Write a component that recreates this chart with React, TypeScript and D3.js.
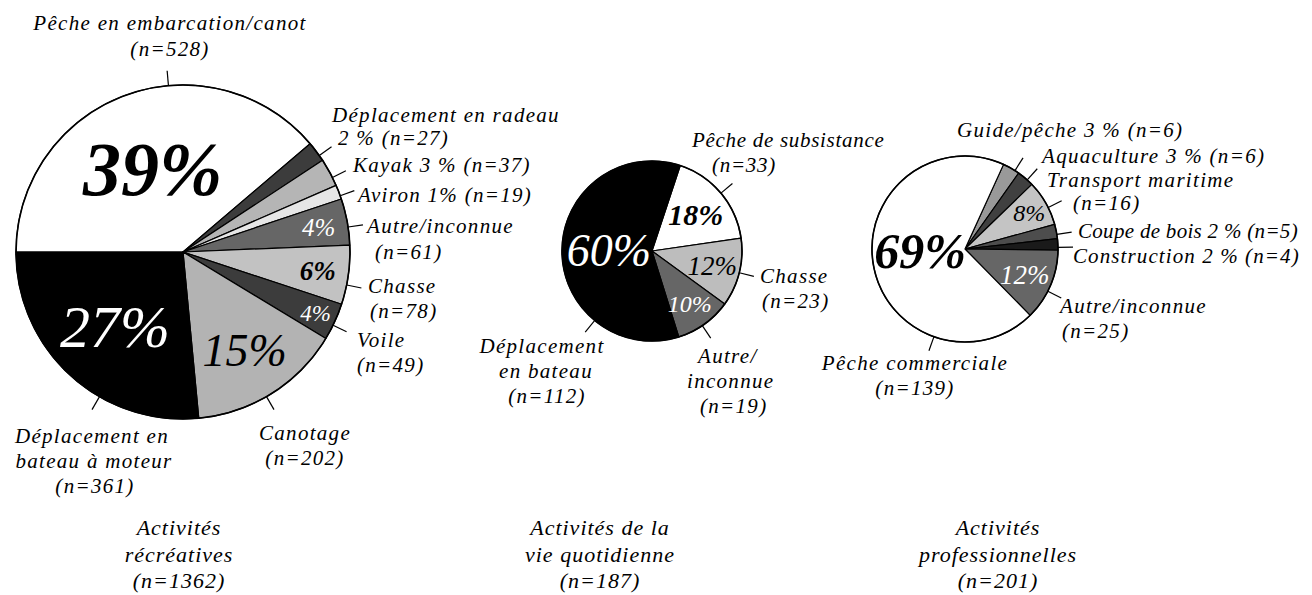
import React from "react";
import * as d3 from "d3";

// ---------- DATA ----------
const recCategories = [
  "Pêche en embarcation/canot",
  "Déplacement en radeau",
  "Kayak",
  "Aviron",
  "Autre/inconnue",
  "Chasse",
  "Voile",
  "Canotage",
  "Déplacement en\nbateau à moteur",
];
const recValues = [528, 27, 37, 19, 61, 78, 49, 202, 361];

const dailyCategories = ["Pêche de subsistance", "Chasse", "Autre/\ninconnue", "Déplacement\nen bateau"];
const dailyValues = [33, 23, 19, 112];

const proCategories = [
  "Guide/pêche",
  "Aquaculture",
  "Transport maritime",
  "Coupe de bois",
  "Construction",
  "Autre/inconnue",
  "Pêche commerciale",
];
const proValues = [6, 6, 16, 5, 4, 25, 139];

const groupTitles = ["Activités\nrécréatives", "Activités de la\nvie quotidienne", "Activités\nprofessionnelles"];

// ---------- STYLES ----------
const recColors = ["#ffffff", "#3c3c3c", "#b5b5b5", "#e6e6e6", "#666666", "#c2c2c2", "#3c3c3c", "#b3b3b3", "#000000"];
const dailyColors = ["#ffffff", "#bdbdbd", "#666666", "#000000"];
const proColors = ["#999999", "#404040", "#c4c4c4", "#4d4d4d", "#1a1a1a", "#666666", "#ffffff"];

type Pct = { r: number; size: number; weight: string; fill: string; angle?: number };
type Lbl = { anchor: "start" | "middle"; x: number; y: number; lines: string[]; dx?: number[]; lh?: number; ls?: number };
type SliceLayout = { pct?: Pct; leader: number; label: Lbl };

const recLayout: SliceLayout[] = [
  { pct: { r: 88, size: 76, weight: "bold", fill: "#000" }, leader: 355, label: { anchor: "middle", x: 170, y: 30, lines: ["{l0}", "(n={n})"], lh: 26 } },
  { leader: 54.7, label: { anchor: "start", x: 332, y: 122, lines: ["{l0}", "{p} % (n={n})"], dx: [0, 6], lh: 23 } },
  { leader: 63.5, label: { anchor: "start", x: 353, y: 172, lines: ["{l0} {p} % (n={n})"] } },
  { leader: 70.3, label: { anchor: "start", x: 358, y: 202, lines: ["{l0} {p}% (n={n})"] } },
  { pct: { r: 138, size: 25, weight: "normal", fill: "#fff" }, leader: 81.4, label: { anchor: "start", x: 367, y: 233, lines: ["{l0}", "(n={n})"], dx: [0, 8], lh: 26 } },
  { pct: { r: 136, size: 27, weight: "bold", fill: "#000" }, leader: 101.4, label: { anchor: "start", x: 368, y: 293, lines: ["{l0}", "(n={n})"], dx: [0, 2] } },
  { pct: { r: 146, size: 23, weight: "normal", fill: "#fff" }, leader: 116, label: { anchor: "start", x: 357, y: 347, lines: ["{l0}", "(n={n})"] } },
  { pct: { r: 116, size: 46, weight: "normal", fill: "#000" }, leader: 150, label: { anchor: "middle", x: 305, y: 440, lines: ["{l0}", "(n={n})"] } },
  { pct: { r: 101, size: 60, weight: "normal", fill: "#fff" }, leader: 210, label: { anchor: "middle", x: 92, y: 443, lines: ["{l0}", "{l1}", "(n={n})"], dx: [0, 2, 3] } },
];

const dailyLayout: SliceLayout[] = [
  { pct: { r: 57, size: 30, weight: "bold", fill: "#000" }, leader: 50, label: { anchor: "start", x: 692, y: 147, lines: ["{l0}", "(n={n})"], dx: [0, 20], ls: 0.7 } },
  { pct: { r: 62, size: 27, weight: "normal", fill: "#000" }, leader: 104, label: { anchor: "start", x: 760, y: 283, lines: ["{l0}", "(n={n})"], dx: [0, 2] } },
  { pct: { r: 65, size: 24, weight: "normal", fill: "#fff" }, leader: 146, label: { anchor: "start", x: 698, y: 363, lines: ["{l0}", "{l1}", "(n={n})"], dx: [0, -11, 2] } },
  { pct: { r: 43, size: 46, weight: "normal", fill: "#fff" }, leader: 219.5, label: { anchor: "middle", x: 542, y: 353, lines: ["{l0}", "{l1}", "(n={n})"], dx: [0, 4, 5] } },
];

const proLayout: SliceLayout[] = [
  { leader: 32.5, label: { anchor: "start", x: 957, y: 137, lines: ["{l0} {p} % (n={n})"] } },
  { leader: 42, label: { anchor: "start", x: 1042, y: 163, lines: ["{l0} {p} % (n={n})"] } },
  { pct: { r: 74, size: 24, weight: "normal", fill: "#000" }, leader: 63.5, label: { anchor: "start", x: 1047, y: 187, lines: ["{l0}", "(n={n})"], dx: [0, 26], lh: 23 } },
  { leader: 81, label: { anchor: "start", x: 1078, y: 238, lines: ["{l0} {p} % (n={n})"], ls: 0.3 } },
  { leader: 89, label: { anchor: "start", x: 1073, y: 263, lines: ["{l0} {p} % (n={n})"], ls: 1.1 } },
  { pct: { r: 65, size: 27, weight: "normal", fill: "#fff" }, leader: 117, label: { anchor: "start", x: 1060, y: 313, lines: ["{l0}", "(n={n})"], dx: [0, 2] } },
  { pct: { r: 45, size: 50, weight: "bold", fill: "#000", angle: 268 }, leader: 199.5, label: { anchor: "middle", x: 915, y: 370, lines: ["{l0}", "(n={n})"] } },
];

const pies = [
  { cats: recCategories, vals: recValues, colors: recColors, layout: recLayout, cx: 183, cy: 252, r: 167, start: 270, titleX: 179 },
  { cats: dailyCategories, vals: dailyValues, colors: dailyColors, layout: dailyLayout, cx: 652, cy: 251, r: 90, start: 18.3, titleX: 600 },
  { cats: proCategories, vals: proValues, colors: proColors, layout: proLayout, cx: 965, cy: 249, r: 93, start: 24.5, titleX: 998 },
];

const FONT = "'Liberation Serif', 'DejaVu Serif', serif";
const rad = (deg: number) => (deg * Math.PI) / 180;

function fill(tpl: string, name: string, p: number, n: number) {
  const parts = name.split("\n");
  return tpl
    .replace("{l0}", parts[0])
    .replace("{l1}", parts[1] ?? "")
    .replace("{p}", String(p))
    .replace("{n}", String(n));
}

function Pie({ cfg, title }: { cfg: (typeof pies)[number]; title: string }) {
  const total = d3.sum(cfg.vals);
  const s = rad(cfg.start);
  const arcs = d3
    .pie<number>()
    .sort(null)
    .value((d) => d)
    .startAngle(s)
    .endAngle(s + 2 * Math.PI)(cfg.vals);
  const arcGen = d3.arc<d3.PieArcDatum<number>>().innerRadius(0).outerRadius(cfg.r);
  const pol = (deg: number, r: number): [number, number] => [Math.sin(rad(deg)) * r, -Math.cos(rad(deg)) * r];

  return (
    <g>
      <g transform={`translate(${cfg.cx},${cfg.cy})`}>
        {arcs.map((a, i) => (
          <path key={i} d={arcGen(a) || ""} fill={cfg.colors[i]} stroke="#000" strokeWidth={1.2} strokeLinejoin="round" />
        ))}
        <circle r={cfg.r} fill="none" stroke="#000" strokeWidth={1.6} />
        {arcs.map((a, i) => {
          const L = cfg.layout[i];
          const [x1, y1] = pol(L.leader, cfg.r);
          const [x2, y2] = pol(L.leader, cfg.r + 15);
          return <line key={"l" + i} x1={x1} y1={y1} x2={x2} y2={y2} stroke="#000" strokeWidth={1.2} />;
        })}
        {arcs.map((a, i) => {
          const P = cfg.layout[i].pct;
          if (!P) return null;
          const mid = P.angle ?? (((a.startAngle + a.endAngle) / 2) * 180) / Math.PI;
          const [x, y] = pol(mid, P.r);
          const p = Math.round((cfg.vals[i] / total) * 100);
          return (
            <text
              key={"p" + i}
              x={x}
              y={y + P.size * 0.34}
              textAnchor="middle"
              fontSize={P.size}
              fontWeight={P.weight}
              fontStyle="italic"
              fill={P.fill}
              fontFamily={FONT}
            >
              {p}%
            </text>
          );
        })}
      </g>
      {cfg.vals.map((v, i) => {
        const L = cfg.layout[i].label;
        const p = Math.round((v / total) * 100);
        const lh = L.lh ?? 25;
        return (
          <text key={"t" + i} fontFamily={FONT} fontStyle="italic" fontSize={21} letterSpacing={L.ls ?? 1.3} textAnchor={L.anchor} fill="#000">
            {L.lines.map((tpl, j) => (
              <tspan key={j} x={L.x + (L.dx ? L.dx[j] : 0)} y={L.y + j * lh}>
                {fill(tpl, cfg.cats[i], p, v)}
              </tspan>
            ))}
          </text>
        );
      })}
      <text fontFamily={FONT} fontStyle="italic" fontSize={22} letterSpacing={1} textAnchor="middle" fill="#000">
        {[...title.split("\n"), `(n=${d3.format("")(total)})`].map((t, j) => (
          <tspan key={j} x={cfg.titleX} y={535 + j * 26.5}>
            {t}
          </tspan>
        ))}
      </text>
    </g>
  );
}

export default function App() {
  return (
    <svg width={1312} height={595} style={{ position: "absolute", left: 0, top: 0, background: "#fff" }}>
      <rect width={1312} height={595} fill="#fff" />
      {pies.map((cfg, i) => (
        <Pie key={i} cfg={cfg} title={groupTitles[i]} />
      ))}
    </svg>
  );
}
